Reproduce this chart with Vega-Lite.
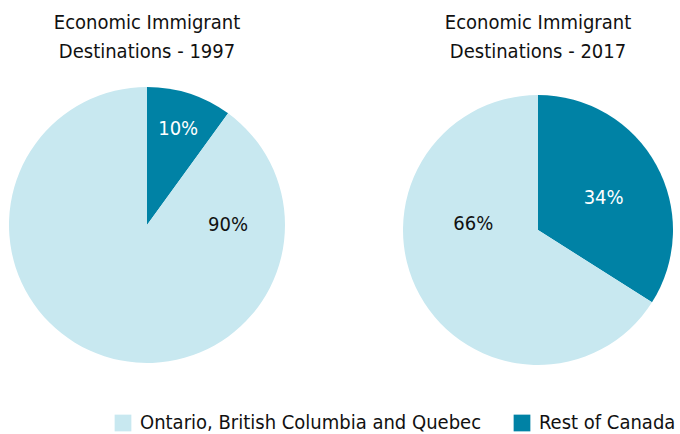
{
  "$schema": "https://vega.github.io/schema/vega-lite/v6.json",
  "padding": {"left": 9, "top": 13, "right": 7, "bottom": 0},
  "spacing": 118,
  "data": {"values": [
    {"year": "1997", "region": "Rest of Canada", "share": 0.10, "order": 1},
    {"year": "1997", "region": "Ontario, British Columbia and Quebec", "share": 0.90, "order": 2},
    {"year": "2017", "region": "Rest of Canada", "share": 0.34, "order": 1},
    {"year": "2017", "region": "Ontario, British Columbia and Quebec", "share": 0.66, "order": 2}
  ]},
  "config": {
    "view": {"stroke": null},
    "font": "DejaVu Sans Condensed",
    "title": {"font": "DejaVu Sans Condensed", "fontSize": 20, "fontWeight": "normal", "lineHeight": 29, "color": "#111111", "offset": 25, "anchor": "middle"},
    "legend": {"labelFont": "DejaVu Sans Condensed"},
    "text": {"font": "DejaVu Sans Condensed"}
  },
  "hconcat": [
    {
      "width": 276, "height": 276,
      "title": {"text": ["Economic Immigrant", "Destinations - 1997"]},
      "transform": [{"filter": "datum.year == '1997'"}],
      "encoding": {
        "theta": {"field": "share", "type": "quantitative", "stack": true},
        "order": {"field": "order", "type": "quantitative"}
      },
      "layer": [
        {
          "mark": {"type": "arc", "outerRadius": 138},
          "encoding": {
            "color": {
              "field": "region", "type": "nominal",
              "scale": {"domain": ["Ontario, British Columbia and Quebec", "Rest of Canada"], "range": ["#c8e8f0", "#0082a5"]},
              "legend": {"orient": "none", "direction": "horizontal", "legendX": 104, "legendY": 326, "title": null, "symbolType": "square", "symbolSize": 280, "symbolStrokeWidth": 0, "labelFontSize": 20, "labelColor": "#111111", "labelOffset": 7, "columnPadding": 30, "labelLimit": 400}
            }
          }
        },
        {
          "mark": {"type": "text", "radius": 101, "fontSize": 20, "fill": "white"},
          "encoding": {
            "text": {"field": "share", "type": "quantitative", "format": ".0%"},
            "opacity": {"condition": {"test": "datum.order == 1", "value": 1}, "value": 0}
          }
        },
        {
          "mark": {"type": "text", "radius": 81, "thetaOffset": -1.885, "fontSize": 20, "fill": "#111111"},
          "encoding": {
            "text": {"field": "share", "type": "quantitative", "format": ".0%"},
            "opacity": {"condition": {"test": "datum.order == 2", "value": 1}, "value": 0}
          }
        }
      ]
    },
    {
      "width": 270, "height": 286,
      "title": {"text": ["Economic Immigrant", "Destinations - 2017"]},
      "transform": [{"filter": "datum.year == '2017'"}],
      "encoding": {
        "theta": {"field": "share", "type": "quantitative", "stack": true},
        "order": {"field": "order", "type": "quantitative"}
      },
      "layer": [
        {
          "mark": {"type": "arc", "outerRadius": 135},
          "encoding": {
            "color": {"field": "region", "type": "nominal"}
          }
        },
        {
          "mark": {"type": "text", "radius": 73, "thetaOffset": 0.05, "fontSize": 20, "fill": "white"},
          "encoding": {
            "text": {"field": "share", "type": "quantitative", "format": ".0%"},
            "opacity": {"condition": {"test": "datum.order == 1", "value": 1}, "value": 0}
          }
        },
        {
          "mark": {"type": "text", "radius": 65, "thetaOffset": 0.59, "fontSize": 20, "fill": "#111111"},
          "encoding": {
            "text": {"field": "share", "type": "quantitative", "format": ".0%"},
            "opacity": {"condition": {"test": "datum.order == 2", "value": 1}, "value": 0}
          }
        }
      ]
    }
  ]
}
